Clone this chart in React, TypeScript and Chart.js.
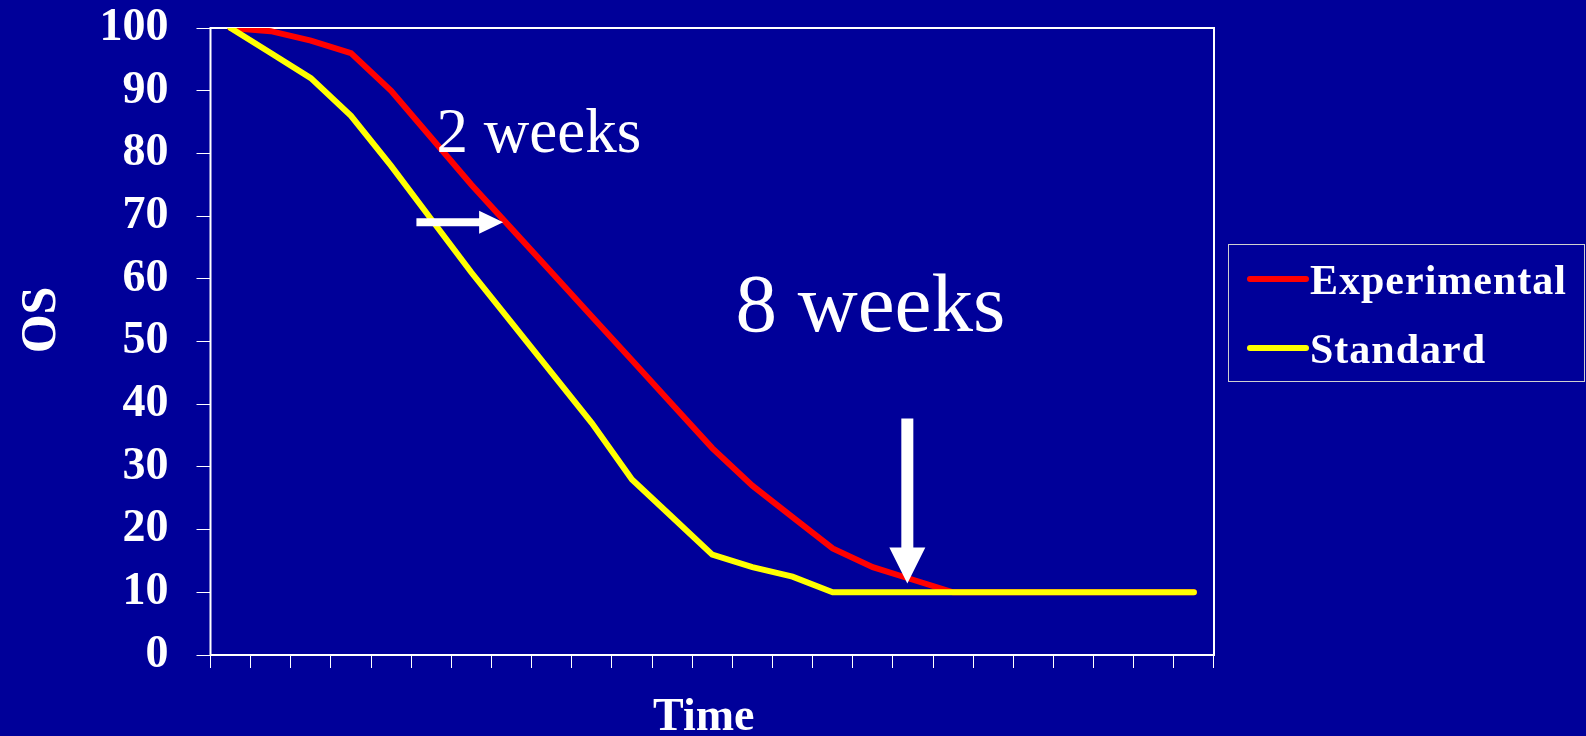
import React, { useEffect, useRef } from 'react';
import { Chart, registerables } from 'chart.js';

Chart.register(...registerables);

// Time points along the x axis (category axis, no printed labels)
const timePoints = [
  '1', '2', '3', '4', '5', '6', '7', '8', '9', '10', '11', '12', '13',
  '14', '15', '16', '17', '18', '19', '20', '21', '22', '23', '24', '25',
];

// Overall survival (%) per time point
const experimental = [
  100, 99.5, 98, 96, 90, 82.5, 75, 68, 61, 54, 47, 40, 33,
  27, 22, 17, 14, 12, 10, 10, 10, 10, 10, 10, 10,
];
const standard = [
  100, 96, 92, 86, 78, 69.5, 61, 53, 45, 37, 28, 22, 16,
  14, 12.5, 10, 10, 10, 10, 10, 10, 10, 10, 10, 10,
];

const seriesLabels = ['Experimental', 'Standard'];
const seriesColors = ['#ff0000', '#ffff00'];

const xTitle = 'Time';
const yTitle = 'OS';

const yMin = 0;
const yMax = 100;
const yStep = 10;

// Annotation anchors in data space: [category index, OS value]
const shortGapArrow = { from: [4.63, 69], to: [6.79, 69] };
const longGapArrow = { from: [16.86, 37.7], to: [16.86, 11.4] };
const gapLabels = [
  { text: '2 weeks', x: 5.13, y: 80.3 },
  { text: '8 weeks', x: 12.58, y: 51.6 },
];

const SERIF = '"Times New Roman", "Liberation Serif", serif';
const BG = '#000099';

function drawArrow(
  ctx: CanvasRenderingContext2D,
  x0: number, y0: number, x1: number, y1: number,
  shaft: number, headLen: number, headWidth: number,
) {
  const len = Math.hypot(x1 - x0, y1 - y0);
  const ux = (x1 - x0) / len;
  const uy = (y1 - y0) / len;
  const px = -uy;
  const py = ux;
  const bx = x1 - ux * headLen;
  const by = y1 - uy * headLen;
  ctx.beginPath();
  ctx.moveTo(x0 + px * shaft / 2, y0 + py * shaft / 2);
  ctx.lineTo(bx + px * shaft / 2, by + py * shaft / 2);
  ctx.lineTo(bx + px * headWidth / 2, by + py * headWidth / 2);
  ctx.lineTo(x1, y1);
  ctx.lineTo(bx - px * headWidth / 2, by - py * headWidth / 2);
  ctx.lineTo(bx - px * shaft / 2, by - py * shaft / 2);
  ctx.lineTo(x0 - px * shaft / 2, y0 - py * shaft / 2);
  ctx.closePath();
  ctx.fill();
}

// White frame around the plot area
const framePlugin = {
  id: 'plotFrame',
  beforeDatasetsDraw(chart: any) {
    const { ctx, chartArea: a } = chart;
    ctx.save();
    ctx.strokeStyle = '#ffffff';
    ctx.lineWidth = 2;
    ctx.strokeRect(a.left, a.top, a.right - a.left, a.bottom - a.top);
    ctx.restore();
  },
};

// Axis titles: "Time" under the plot, rotated "OS" left of the value ticks
const axisTitlePlugin = {
  id: 'axisTitles',
  afterDraw(chart: any) {
    const { ctx, chartArea: a } = chart;
    ctx.save();
    ctx.fillStyle = '#ffffff';
    ctx.textAlign = 'center';
    ctx.textBaseline = 'alphabetic';
    ctx.font = `bold 46px ${SERIF}`;
    ctx.fillText(xTitle, a.left + (a.right - a.left) * 0.4915, a.bottom + 75);
    ctx.translate(55, a.top + 292);
    ctx.rotate(-Math.PI / 2);
    ctx.font = `bold 50px ${SERIF}`;
    ctx.fillText(yTitle, 0, 0);
    ctx.restore();
  },
};

// Gap arrows and their labels
const gapPlugin = {
  id: 'gapNotes',
  afterDatasetsDraw(chart: any) {
    const { ctx, scales } = chart;
    const sx = scales.x;
    const sy = scales.y;
    ctx.save();
    ctx.fillStyle = '#ffffff';
    drawArrow(
      ctx,
      sx.getPixelForValue(shortGapArrow.from[0]), sy.getPixelForValue(shortGapArrow.from[1]),
      sx.getPixelForValue(shortGapArrow.to[0]), sy.getPixelForValue(shortGapArrow.to[1]),
      8, 24, 23,
    );
    drawArrow(
      ctx,
      sx.getPixelForValue(longGapArrow.from[0]), sy.getPixelForValue(longGapArrow.from[1]),
      sx.getPixelForValue(longGapArrow.to[0]), sy.getPixelForValue(longGapArrow.to[1]),
      12, 36, 36,
    );
    const sizes = [63, 83];
    ctx.textAlign = 'left';
    ctx.textBaseline = 'alphabetic';
    gapLabels.forEach((g, i) => {
      ctx.font = `${sizes[i]}px ${SERIF}`;
      ctx.fillText(g.text, sx.getPixelForValue(g.x), sy.getPixelForValue(g.y));
    });
    ctx.restore();
  },
};

// Boxed legend to the right of the plot
const legendPlugin = {
  id: 'boxLegend',
  afterDraw(chart: any) {
    const { ctx, chartArea: a } = chart;
    const left = Math.round(a.right + 14);
    const top = 244;
    ctx.save();
    ctx.strokeStyle = '#d0d0d0';
    ctx.lineWidth = 1;
    ctx.strokeRect(left + 0.5, top + 0.5, 356, 137);
    ctx.font = `bold 42px ${SERIF}`;
    (ctx as any).letterSpacing = '1px';
    ctx.textAlign = 'left';
    ctx.textBaseline = 'alphabetic';
    chart.data.datasets.forEach((ds: any, i: number) => {
      const lineY = top + 35 + i * 69;
      ctx.strokeStyle = ds.borderColor;
      ctx.lineWidth = 6;
      ctx.lineCap = 'round';
      ctx.beginPath();
      ctx.moveTo(left + 22, lineY);
      ctx.lineTo(left + 78, lineY);
      ctx.stroke();
      ctx.fillStyle = '#ffffff';
      ctx.fillText(ds.label, left + 82, lineY + 14.5);
    });
    ctx.restore();
  },
};

export default function App() {
  const canvasRef = useRef<HTMLCanvasElement | null>(null);

  useEffect(() => {
    document.body.style.margin = '0';
    document.body.style.background = BG;
    const canvas = canvasRef.current;
    if (!canvas) return;

    const chart = new Chart(canvas, {
      type: 'line',
      data: {
        labels: timePoints,
        datasets: [
          {
            label: seriesLabels[0],
            data: experimental,
            borderColor: seriesColors[0],
            backgroundColor: seriesColors[0],
            borderWidth: 6,
            borderCapStyle: 'round',
            pointRadius: 0,
            tension: 0,
            order: 1,
          },
          {
            label: seriesLabels[1],
            data: standard,
            borderColor: seriesColors[1],
            backgroundColor: seriesColors[1],
            borderWidth: 6,
            borderCapStyle: 'round',
            pointRadius: 0,
            tension: 0,
            order: 0,
          },
        ],
      },
      options: {
        animation: false,
        responsive: false,
        maintainAspectRatio: false,
        events: [],
        layout: { padding: { left: 13, top: 28, right: 372, bottom: 0 } },
        plugins: {
          legend: { display: false },
          tooltip: { enabled: false },
        },
        scales: {
          x: {
            type: 'category',
            offset: true,
            border: { display: false },
            grid: {
              display: true,
              offset: true,
              drawOnChartArea: false,
              drawTicks: true,
              tickLength: 13,
              color: '#ffffff',
              lineWidth: 1,
            },
            ticks: { display: false },
            title: { display: false },
            afterFit: (scale: any) => {
              scale.height = 81;
            },
          },
          y: {
            min: yMin,
            max: yMax,
            border: { display: false },
            grid: {
              display: true,
              drawOnChartArea: false,
              drawTicks: true,
              tickLength: 14,
              color: '#ffffff',
              lineWidth: 1,
            },
            ticks: {
              stepSize: yStep,
              color: '#ffffff',
              padding: 28,
              font: { family: SERIF, size: 46, weight: 'bold', lineHeight: 1 },
            },
            title: { display: false },
            afterFit: (scale: any) => {
              scale.width = 197.5;
              scale.paddingTop = 0;
              scale.paddingBottom = 0;
            },
          },
        },
      },
      plugins: [framePlugin, gapPlugin, axisTitlePlugin, legendPlugin],
    } as any);

    return () => chart.destroy();
  }, []);

  return (
    <div style={{ position: 'fixed', left: 0, top: 0, width: 1586, height: 736, background: BG }}>
      <canvas ref={canvasRef} width={1586} height={736} style={{ display: 'block' }} />
    </div>
  );
}
